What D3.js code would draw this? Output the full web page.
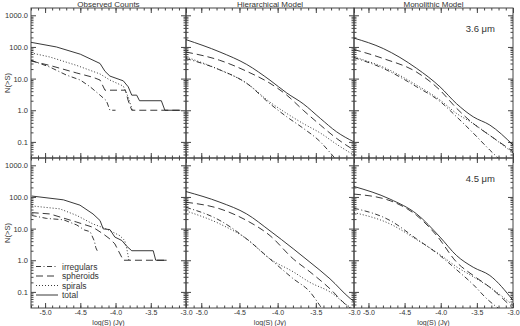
<!DOCTYPE html>
<html lang="en">
<head>
<meta charset="utf-8">
<title>Source counts by morphology</title>
<script src="https://d3js.org/d3.v7.min.js"></script>
<style>
  body { margin: 0; background: #fff; }
  svg text { font-family: "Liberation Sans", Arial, sans-serif; fill: #333; }
</style>
</head>
<body>
<svg id="counts" width="520" height="326"></svg>
<script>
// ---- data: [log(S) (Jy), N(>S)]
// 3.6 micron
var obs36Irr = [[-5.2,38],[-4.93,23],[-4.70,13],[-4.5,9],[-4.36,5.5],[-4.22,3],[-4.13,2],[-4.08,1],[-4.0,1]];
var obs36Sph = [[-5.2,36],[-4.93,26],[-4.55,15],[-4.32,11],[-4.22,9],[-4.15,4.3],[-3.86,4.3],[-3.82,2],[-3.77,1],[-3.08,1]];
var obs36Spi = [[-5.2,65],[-4.93,48],[-4.55,26],[-4.22,14],[-4.08,9],[-3.89,5.8],[-3.82,2.6],[-3.77,1.15],[-3.75,1]];
var obs36Tot = [[-5.2,140],[-4.84,100],[-4.5,59],[-4.22,30],[-4.15,17],[-4.08,12],[-3.89,8.5],[-3.82,5.5],[-3.77,3],[-3.70,3],[-3.66,2],[-3.35,2],[-3.30,1],[-3.08,1]];

var hier36Irr = [[-5.2,43],[-4.76,19],[-4.405,7.1],[-4.10,1.6],[-3.88,0.62],[-3.665,0.27],[-3.44,0.1],[-3.31,0.045],[-3.2,0.022]];
var hier36Sph = [[-5.2,69],[-4.76,38],[-4.405,17],[-4.10,7.1],[-3.88,3.0],[-3.665,1.0],[-3.44,0.34],[-3.23,0.13],[-3.0,0.055]];
var hier36Spi = [[-5.2,48],[-4.76,19],[-4.405,7.1],[-4.10,1.8],[-3.88,0.79],[-3.665,0.38],[-3.44,0.19],[-3.23,0.085],[-3.0,0.038]];
var hier36Tot = [[-5.2,170],[-4.755,69],[-4.405,28],[-4.10,8.9],[-3.88,3.5],[-3.665,1.6],[-3.44,0.55],[-3.23,0.21],[-3.0,0.1]];

var mono36Irr = [[-5.2,46],[-4.795,21],[-4.333,5.5],[-4.01,1.9],[-3.78,0.62],[-3.55,0.19],[-3.32,0.055],[-3.2,0.03]];
var mono36Sph = [[-5.2,83],[-4.795,43],[-4.333,16],[-4.01,4.3],[-3.78,1.15],[-3.55,0.38],[-3.32,0.16],[-3.0,0.05]];
var mono36Spi = [[-5.2,48],[-4.795,23],[-4.333,6.2],[-4.01,2.1],[-3.78,0.79],[-3.55,0.38],[-3.32,0.16],[-3.0,0.045]];
var mono36Tot = [[-5.2,190],[-4.795,89],[-4.333,21],[-4.01,5.5],[-3.78,1.6],[-3.55,0.62],[-3.32,0.34],[-3.0,0.08]];

// 4.5 micron
var obs45Irr = [[-5.19,26],[-4.98,21],[-4.74,19],[-4.55,13],[-4.44,9],[-4.36,8],[-4.3,4],[-4.28,2.5],[-4.26,2]];
var obs45Sph = [[-5.19,32],[-4.93,29],[-4.55,16],[-4.32,11],[-4.175,6.8],[-4.08,4.7],[-4.01,3.3],[-3.96,2],[-3.89,1],[-3.275,1]];
var obs45Spi = [[-5.19,52],[-4.79,42],[-4.55,26],[-4.32,14],[-4.13,9.8],[-3.94,6],[-3.87,4.2],[-3.84,2.3],[-3.81,1]];
var obs45Tot = [[-5.19,107],[-4.74,81],[-4.505,55],[-4.32,29],[-4.22,18],[-4.175,9.8],[-4.08,9.3],[-4.01,5.4],[-3.91,4.2],[-3.84,2.75],[-3.77,2],[-3.465,2],[-3.43,1],[-3.275,1]];

var hier45Irr = [[-5.2,47],[-4.755,18],[-4.405,4.7],[-4.10,1.1],[-3.795,0.26],[-3.577,0.1],[-3.45,0.038],[-3.4,0.025]];
var hier45Sph = [[-5.2,68],[-4.755,42],[-4.405,18],[-4.10,6.0],[-3.795,1.1],[-3.577,0.43],[-3.315,0.126],[-3.1,0.038],[-3.0,0.025]];
var hier45Spi = [[-5.2,36],[-4.755,14],[-4.405,4.7],[-4.10,1.1],[-3.795,0.43],[-3.577,0.2],[-3.315,0.1],[-3.05,0.033],[-3.0,0.028]];
var hier45Tot = [[-5.2,148],[-4.755,68],[-4.405,29],[-4.10,8.5],[-3.795,2.3],[-3.577,0.87],[-3.315,0.26],[-3.05,0.062],[-3.0,0.05]];

var mono45Irr = [[-5.2,44],[-4.70,18],[-4.333,4.7],[-4.01,1.4],[-3.78,0.5],[-3.55,0.17],[-3.36,0.06],[-3.2,0.03]];
var mono45Sph = [[-5.2,123],[-4.70,76],[-4.333,26],[-4.055,6.0],[-3.78,0.87],[-3.55,0.33],[-3.32,0.14],[-3.0,0.03]];
var mono45Spi = [[-5.2,32],[-4.70,14],[-4.333,4.5],[-4.01,1.5],[-3.78,0.62],[-3.55,0.3],[-3.32,0.14],[-3.0,0.038]];
var mono45Tot = [[-5.2,214],[-4.70,85],[-4.333,29],[-4.01,5.4],[-3.78,1.4],[-3.55,0.6],[-3.32,0.33],[-3.0,0.054]];

var seriesNames = ["irregulars", "spheroids", "spirals", "total"];
var colTitles = ["Observed Counts", "Hierarchical Model", "Monolithic Model"];
var bandLabels = ["3.6 \u03bcm", "4.5 \u03bcm"];
var xTicks = [-5.0, -4.5, -4.0, -3.5, -3.0];
var xTickLabels = ["-5.0", "-4.5", "-4.0", "-3.5", "-3.0"];
var yTicks = [0.1, 1, 10, 100, 1000];
var yTickLabels = ["0.1", "1.0", "10.0", "100.0", "1000.0"];

// ---- layout
var colX = [[31, 186], [186, 354], [354, 513]];
var rowY = [[8, 158], [158, 308]];
var dashes = ["5,2.5,1,2.5", "7,4", "1,2", null];

var grid = [
  [[obs36Irr, obs36Sph, obs36Spi, obs36Tot], [hier36Irr, hier36Sph, hier36Spi, hier36Tot], [mono36Irr, mono36Sph, mono36Spi, mono36Tot]],
  [[obs45Irr, obs45Sph, obs45Spi, obs45Tot], [hier45Irr, hier45Sph, hier45Spi, hier45Tot], [mono45Irr, mono45Sph, mono45Spi, mono45Tot]]
];

var svg = d3.select("svg#counts");
var xMinor = d3.range(-52, -29).map(d => d / 10);
var yMinor = [];
[0.01, 0.1, 1, 10, 100, 1000].forEach(function (dec) {
  for (var m = 2; m <= 9; m++) yMinor.push(dec * m);
});
yMinor = yMinor.filter(v => v > 0.031 && v < 1700);

function strip(g) { g.select(".domain").remove(); g.selectAll("line").attr("stroke", "#444"); }

grid.forEach(function (rowData, r) {
  rowData.forEach(function (panel, c) {
    var x = d3.scaleLinear().domain([-5.2, -3.0]).range(colX[c]);
    var y = d3.scaleLog().domain([0.031, 1700]).range([rowY[r][1], rowY[r][0]]);
    var g = svg.append("g");
    var id = "clip" + r + c;
    svg.append("clipPath").attr("id", id).append("rect")
      .attr("x", colX[c][0]).attr("y", rowY[r][0])
      .attr("width", colX[c][1] - colX[c][0]).attr("height", rowY[r][1] - rowY[r][0]);

    // x ticks, inward on top and bottom
    g.append("g").attr("transform", "translate(0," + rowY[r][1] + ")")
      .call(d3.axisBottom(x).tickValues(xMinor).tickSize(-2.5).tickFormat("")).call(strip);
    g.append("g").attr("transform", "translate(0," + rowY[r][0] + ")")
      .call(d3.axisTop(x).tickValues(xMinor).tickSize(-2.5).tickFormat("")).call(strip);
    g.append("g").attr("transform", "translate(0," + rowY[r][0] + ")")
      .call(d3.axisTop(x).tickValues(xTicks).tickSize(-5).tickFormat("")).call(strip);
    g.append("g").attr("class", "xmaj").attr("transform", "translate(0," + rowY[r][1] + ")")
      .call(d3.axisBottom(x).tickValues(xTicks).tickSize(-5).tickPadding(2)
        .tickFormat((d, i) => r == 1 ? xTickLabels[i] : ""))
      .call(strip);

    // y ticks, inward on left and right
    g.append("g").attr("transform", "translate(" + colX[c][0] + ",0)")
      .call(d3.axisLeft(y).tickValues(yMinor).tickSize(-2.5).tickFormat("")).call(strip);
    g.append("g").attr("transform", "translate(" + colX[c][1] + ",0)")
      .call(d3.axisRight(y).tickValues(yMinor).tickSize(-2.5).tickFormat("")).call(strip);
    g.append("g").attr("transform", "translate(" + colX[c][1] + ",0)")
      .call(d3.axisRight(y).tickValues(yTicks).tickSize(-5).tickFormat("")).call(strip);
    g.append("g").attr("class", "ymaj").attr("transform", "translate(" + colX[c][0] + ",0)")
      .call(d3.axisLeft(y).tickValues(yTicks).tickSize(-5).tickPadding(3)
        .tickFormat((d, i) => c == 0 ? yTickLabels[i] : ""))
      .call(strip);

    g.selectAll(".xmaj .tick text").style("font-size", "7px").attr("fill", "#333");
    g.selectAll(".ymaj .tick text").style("font-size", "7.5px").attr("fill", "#333");

    g.append("rect").attr("x", colX[c][0]).attr("y", rowY[r][0])
      .attr("width", colX[c][1] - colX[c][0]).attr("height", rowY[r][1] - rowY[r][0])
      .attr("fill", "none").attr("stroke", "#444").attr("stroke-width", 1);

    var line = d3.line().x(d => x(d[0])).y(d => y(d[1]))
      .curve(c == 0 ? d3.curveLinear : d3.curveMonotoneX);
    g.append("g").attr("clip-path", "url(#" + id + ")")
      .selectAll("path").data(panel).enter().append("path")
      .attr("d", line)
      .attr("fill", "none").attr("stroke", "#222").attr("stroke-width", 0.9)
      .attr("stroke-dasharray", (d, i) => dashes[i]);

    if (r == 0) {
      g.append("text").attr("x", (colX[c][0] + colX[c][1]) / 2).attr("y", 6.5)
        .attr("text-anchor", "middle").style("font-size", "8px").text(colTitles[c]);
    } else {
      g.append("text").attr("x", (colX[c][0] + colX[c][1]) / 2).attr("y", 325)
        .attr("text-anchor", "middle").style("font-size", "7px").text("log(S) (Jy)");
    }
    if (c == 0) {
      var cy = (rowY[r][0] + rowY[r][1]) / 2;
      g.append("text").attr("transform", "translate(10," + cy + ") rotate(-90)")
        .attr("text-anchor", "middle").style("font-size", "7.5px").text("N(>S)");
    }
    if (c == 2) {
      g.append("text").attr("x", 495).attr("y", rowY[r][0] + 24)
        .attr("text-anchor", "end").style("font-size", "9.5px").text(bandLabels[r]);
    }
  });
});

// legend in the lower left panel
var legY = [266.5, 276, 285.5, 295];
var leg = svg.append("g");
seriesNames.forEach(function (name, i) {
  leg.append("line").attr("x1", 36).attr("x2", 58).attr("y1", legY[i]).attr("y2", legY[i])
    .attr("stroke", "#222").attr("stroke-width", 0.9).attr("stroke-dasharray", dashes[i]);
  leg.append("text").attr("x", 62).attr("y", legY[i] + 3)
    .style("font-size", "8.5px").text(name);
});
</script>
</body>
</html>
